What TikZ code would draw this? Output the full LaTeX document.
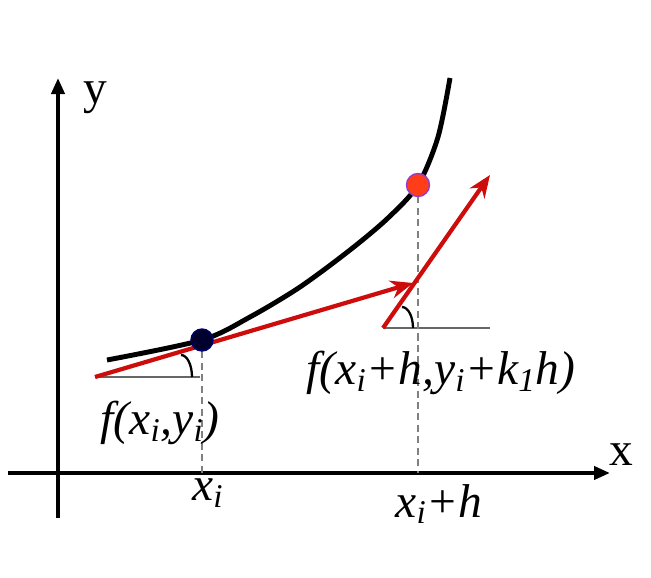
\documentclass[tikz,border=0pt]{standalone}
\usepackage{fontspec}
\setmainfont{Liberation Serif}[ItalicFont={Liberation Serif Italic}]
\usetikzlibrary{arrows.meta}
\definecolor{slopered}{RGB}{205,12,12}
\definecolor{dotnavy}{RGB}{0,0,45}
\definecolor{dotred}{RGB}{255,62,25}
\definecolor{dotrim}{RGB}{150,60,200}
\begin{document}
\begin{tikzpicture}[font=\fontsize{27}{32}\selectfont]
                \useasboundingbox (-1.16,-2.08) rectangle (11.86,9.46);

                \coordinate (xs) at (-1,0);
                \coordinate (xe) at (11.04,0);
                \coordinate (ys) at (0,-0.9);
                \coordinate (ye) at (0,7.9);
                \draw[line width=2.2pt,-{Triangle[length=0.32cm,width=0.26cm]}] (xs) -- (xe);
                \draw[line width=2.2pt,-{Triangle[length=0.32cm,width=0.26cm]}] (ys) -- (ye);
                \node (xlab) at (11.26,0.36) {x};
                \node (ylab) at (0.74,7.5) {y};

                \coordinate (A) at (2.88,2.66);
                \coordinate (B) at (7.2,5.76);
                \draw[line width=2.8pt] plot[smooth] coordinates {(0.98,2.26) (2.88,2.66) (3.84,3.12) (4.84,3.72) (5.84,4.46) (6.6,5.1) (7.2,5.76) (7.6,6.72) (7.84,7.9)};

                \coordinate (p0) at (0.74,1.92);
                \coordinate (p1) at (7.1,3.8);
                \coordinate (p0h) at (2.84,1.92);
                \coordinate (q0) at (6.5,2.9);
                \coordinate (q1) at (8.64,5.96);
                \coordinate (q0h) at (8.64,2.9);
                \draw[gray!80!black,line width=0.8pt] (p0) -- (p0h);
                \draw[gray!80!black,line width=0.8pt] (q0) -- (q0h);
                \draw[line width=1.3pt] (2.46,2.36) arc[start angle=90,end angle=0,x radius=0.22,y radius=0.44];
                \draw[line width=1.3pt] (6.88,3.32) arc[start angle=90,end angle=0,x radius=0.22,y radius=0.42];

                \draw[gray,line width=1pt,dash pattern=on 4pt off 2.5pt] (A) -- (A |- xs);
                \draw[gray,line width=1pt,dash pattern=on 4pt off 2.5pt] (B) -- (B |- xs);

                \draw[slopered,line width=2.4pt,-{Stealth[length=0.45cm,width=0.36cm]}] (p0) -- (p1);
                \draw[slopered,line width=2.4pt,-{Stealth[length=0.45cm,width=0.36cm]}] (q0) -- (q1);

                \node[circle,fill=dotnavy,draw=dotnavy!70!blue,line width=0.8pt,minimum size=0.44cm,inner sep=0pt] (dotA) at (A) {};
                \node[circle,fill=dotred,draw=dotrim,line width=0.8pt,minimum size=0.46cm,inner sep=0pt] (dotB) at (B) {};

                \node (fA) at (2.04,1.0) {\itshape f(x\textsubscript{i},y\textsubscript{i})};
                \node (xA) at (3.0,-0.4) {\itshape x\textsubscript{i}};
                \node (xB) at (7.62,-0.62) {\itshape x\textsubscript{i}+h};
                \node (fB) at (7.66,2.0) {\itshape f(x\textsubscript{i}+h,y\textsubscript{i}+k\textsubscript{1}h)};
            \end{tikzpicture}
\end{document}
